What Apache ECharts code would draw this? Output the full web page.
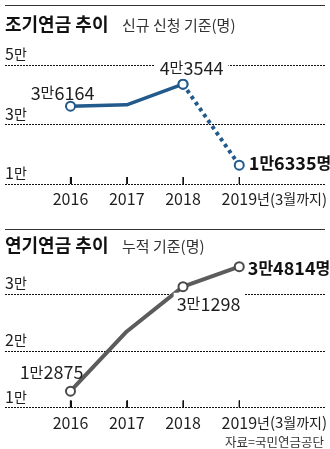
<!DOCTYPE html>
<html>
<head>
<meta charset="utf-8">
<script src="https://cdn.jsdelivr.net/npm/echarts@6/dist/echarts.min.js"></script>
<style>
  html, body { margin: 0; padding: 0; background: #fff; }
  #chart { width: 330px; height: 449px; }
</style>
</head>
<body>
<div id="chart"></div>
<script>
// Years on the horizontal axis; the last one only covers January–March.
const years = ['2016', '2017', '2018', '2019'];
const yearSuffix = ['', '', '', '년(3월까지)'];

// 조기연금: new applications per year
const earlyCounts = [36164, 36600, 43544, 16335];
// 연기연금: cumulative recipients
const deferredCounts = [12875, 23400, 31298, 34814];

// Gridline values for each panel
const earlyTicks = [10000, 30000, 50000];
const deferredTicks = [10000, 20000, 30000];

const NARROW = "'Liberation Sans Narrow', 'Noto Sans CJK KR', sans-serif";
const KR = "'Noto Sans CJK KR', 'Noto Sans CJK SC', sans-serif";
const BLUE = '#215a8b';
const GREY = '#5c5c5c';
const INK = '#1e1e1e';

// digits / brackets in the narrow face, Hangul in the CJK face
function mixed(str, d, h) {
  return str.match(/[\d()=]+|[^\d()=]+/g)
    .map(s => /[\d()=]/.test(s[0]) ? `{${d}|${s}}` : `{${h}|${s}}`)
    .join('');
}
function man(v) {
  return Math.floor(v / 10000) + '만' + (v % 10000);
}

const measureCtx = document.createElement('canvas').getContext('2d');
function segWidth(str, dFont, hFont) {
  let w = 0;
  (str.match(/[\d()=]+|[^\d()=]+/g) || []).forEach(s => {
    measureCtx.font = /[\d()=]/.test(s[0]) ? dFont : hFont;
    w += measureCtx.measureText(s).width;
  });
  return w;
}
const suffixWidth = segWidth(yearSuffix[3], '15px ' + NARROW, '14px ' + KR);

const richStyles = {
  yd: { fontFamily: NARROW, fontSize: 16, color: INK, lineHeight: 16 },
  yh: { fontFamily: KR, fontSize: 14, color: INK, lineHeight: 16 },
  xd: { fontFamily: NARROW, fontSize: 16, color: INK, lineHeight: 16 },
  sd: { fontFamily: NARROW, fontSize: 15, color: INK, lineHeight: 16 },
  sh: { fontFamily: KR, fontSize: 14, color: INK, lineHeight: 16 },
  pad: { width: suffixWidth, lineHeight: 16 },
  vd: { fontFamily: NARROW, fontSize: 18, color: INK, lineHeight: 18 },
  vh: { fontFamily: KR, fontSize: 15, color: INK, lineHeight: 18 },
  bd: { fontFamily: NARROW, fontSize: 18, fontWeight: 'bold', color: '#111', lineHeight: 18 },
  bh: { fontFamily: KR, fontSize: 16, fontWeight: 'bold', color: '#111', lineHeight: 18 }
};

function gridAxis(idx, ticks) {
  return {
    type: 'value', gridIndex: idx,
    min: ticks[0], max: ticks[ticks.length - 1], interval: ticks[1] - ticks[0],
    axisLine: { show: false }, axisTick: { show: false },
    splitLine: { lineStyle: { color: '#111', width: 1, type: [2, 1] } },
    axisLabel: {
      inside: true, margin: 0, align: 'left', verticalAlign: 'bottom',
      padding: [0, 0, 3, 0],
      formatter: v => mixed((v / 10000) + '만', 'yd', 'yh'),
      rich: richStyles
    }
  };
}
function plotYAxis(idx, ticks) {
  return {
    type: 'value', gridIndex: idx, show: false,
    min: ticks[0], max: ticks[ticks.length - 1], interval: ticks[1] - ticks[0],
    splitLine: { show: false }
  };
}
function yearAxis(idx) {
  return {
    type: 'category', gridIndex: idx, data: years, boundaryGap: false,
    position: 'bottom',
    axisLine: { show: true, onZero: false, lineStyle: { color: 'rgba(0,0,0,0)' } },
    axisTick: { show: true, inside: true, length: 7, interval: 0,
      lineStyle: { color: '#111', width: 1 } },
    axisLabel: {
      margin: 7, interval: 0,
      formatter: (val, i) => yearSuffix[i]
        ? '{pad|}{xd|' + val + '}' + mixed(yearSuffix[i], 'sd', 'sh')
        : '{xd|' + val + '}',
      rich: richStyles
    }
  };
}

// short upright tick marks standing on the baseline at every year
function yearTickSeries(xIdx, yIdx, ticks) {
  return {
    type: 'scatter', xAxisIndex: xIdx, yAxisIndex: yIdx, silent: true, clip: false, z: 5,
    data: years.map((y, i) => [i, ticks[0]]),
    symbol: 'rect', symbolSize: [1.3, 7], symbolOffset: [0, -3.5],
    itemStyle: { color: '#111', opacity: 1 }
  };
}

function valueLabel(v, i, last, opts) {
  return Object.assign({
    show: true,
    formatter: () => last ? mixed(man(v) + '명', 'bd', 'bh') : mixed(man(v), 'vd', 'vh'),
    rich: richStyles
  }, opts);
}

// label placement per point
const earlyLabelPos = [
  { position: 'inside', offset: [-8, -13.5] },
  null,
  { position: 'inside', offset: [8.5, -16.5], backgroundColor: '#fff', padding: [2, 5, 2, 5] },
  { position: 'right', distance: 4, offset: [0, -2] }
];
const deferredLabelPos = [
  { position: 'inside', offset: [-19, -19] },
  null,
  { position: 'inside', offset: [26, 16.6], backgroundColor: '#fff', padding: [2, 4, 1, 3] },
  { position: 'right', distance: 3, offset: [0, 1] }
];

function points(values, posList, from, to) {
  return values.map((v, i) => {
    if (i < from || i > to) return '-';
    const pos = posList[i];
    return {
      value: v,
      symbol: pos ? 'emptyCircle' : 'none',
      label: pos ? valueLabel(v, i, i === values.length - 1, pos) : { show: false }
    };
  });
}

const decorations = [
  { type: 'line', shape: { x1: 5, y1: 5.5, x2: 325, y2: 5.5 }, style: { stroke: '#333', lineWidth: 1 } },
  { type: 'text', x: 5, y: 24, style: { text: '조기연금 추이', fontFamily: KR, fontSize: 18, fontWeight: 'bold', fill: '#111', verticalAlign: 'middle' } },
  { type: 'text', x: 122, y: 25, style: { text: '신규 신청 기준(명)', fontFamily: KR, fontSize: 15, fill: '#333', verticalAlign: 'middle' } },
  { type: 'line', shape: { x1: 5, y1: 229.5, x2: 325, y2: 229.5 }, style: { stroke: '#333', lineWidth: 1 } },
  { type: 'text', x: 5, y: 245, style: { text: '연기연금 추이', fontFamily: KR, fontSize: 18, fontWeight: 'bold', fill: '#111', verticalAlign: 'middle' } },
  { type: 'text', x: 122, y: 246, style: { text: '누적 기준(명)', fontFamily: KR, fontSize: 15, fill: '#333', verticalAlign: 'middle' } },
  { type: 'text', x: 324, y: 442, style: { text: '자료=국민연금공단', fontFamily: KR, fontSize: 12.5, fill: '#333', align: 'right', verticalAlign: 'middle' } }
];

const option = {
  animation: false,
  backgroundColor: '#fff',
  grid: [
    { left: 5, right: 5, top: 65, height: 119 },
    { left: 70.5, right: 87, top: 65, height: 119 },
    { left: 5, right: 5, top: 294, height: 113.5 },
    { left: 70.5, right: 87, top: 294, height: 113.5 }
  ],
  xAxis: [
    { type: 'value', gridIndex: 0, show: false },
    yearAxis(1),
    { type: 'value', gridIndex: 2, show: false },
    yearAxis(3)
  ],
  yAxis: [
    gridAxis(0, earlyTicks),
    plotYAxis(1, earlyTicks),
    gridAxis(2, deferredTicks),
    plotYAxis(3, deferredTicks)
  ],
  series: [
    yearTickSeries(1, 1, earlyTicks),
    yearTickSeries(3, 3, deferredTicks),
    {
      name: '조기연금 2019', type: 'line', xAxisIndex: 1, yAxisIndex: 1, silent: true, clip: false,
      data: points(earlyCounts, earlyLabelPos, 2, 3).map((d, i) => i === 2 && d !== '-'
        ? Object.assign({}, d, { label: { show: false } }) : d),
      symbolSize: 9,
      itemStyle: { color: BLUE, borderColor: BLUE, borderWidth: 2 },
      lineStyle: { color: BLUE, width: 4, type: [3.5, 3.8], cap: 'butt' }
    },
    {
      name: '조기연금', type: 'line', xAxisIndex: 1, yAxisIndex: 1, silent: true, clip: false,
      data: points(earlyCounts, earlyLabelPos, 0, 2),
      symbolSize: 9,
      itemStyle: { color: BLUE, borderColor: BLUE, borderWidth: 2 },
      lineStyle: { color: BLUE, width: 3.5 }
    },
    {
      name: '연기연금', type: 'line', xAxisIndex: 3, yAxisIndex: 3, silent: true, clip: false,
      data: points(deferredCounts, deferredLabelPos, 0, 3),
      symbolSize: 9,
      itemStyle: { color: '#4a4a4a', borderColor: '#4a4a4a', borderWidth: 2 },
      lineStyle: { color: GREY, width: 4 }
    }
  ],
  graphic: decorations
};

const chart = echarts.init(document.getElementById('chart'), null, { renderer: 'canvas' });
chart.setOption(option);

// tick marks again as plain strokes, positioned from the category scale
const tickMarks = [];
[[1, 1, earlyTicks], [3, 3, deferredTicks]].forEach(([xi, yi, ticks]) => {
  years.forEach((y, i) => {
    const p = chart.convertToPixel({ xAxisIndex: xi, yAxisIndex: yi }, [i, ticks[0]]);
    if (!p || !isFinite(p[0]) || !isFinite(p[1])) return;
    const x = Math.round(p[0]) + 0.5;
    tickMarks.push({
      type: 'line', z: 100,
      shape: { x1: x, y1: p[1], x2: x, y2: p[1] - 7 },
      style: { stroke: '#111', lineWidth: 1 }
    });
  });
});
chart.setOption({ graphic: decorations.concat(tickMarks) });
</script>
</body>
</html>
